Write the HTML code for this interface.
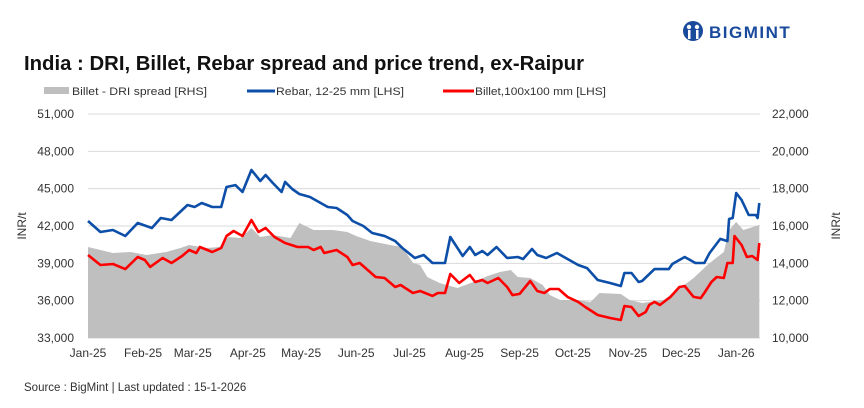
<!DOCTYPE html>
<html><head><meta charset="utf-8">
<style>
body{margin:0;background:#fff;font-family:"Liberation Sans",sans-serif;}
#wrap{position:relative;width:864px;height:408px;overflow:hidden;background:#fff;}
</style></head>
<body>
<div id="wrap">
<svg id="svg" width="864" height="408" xmlns="http://www.w3.org/2000/svg">
  <g>
    <circle cx="693" cy="31" r="10" fill="#1a4a9c"/>
    <circle cx="689" cy="27" r="2.2" fill="#fff"/><circle cx="697" cy="27" r="2.2" fill="#fff"/>
    <rect x="688" y="30" width="2.5" height="9" fill="#fff"/><rect x="696" y="30" width="2.5" height="9" fill="#fff"/>
    <text x="709" y="38" font-size="17" font-weight="bold" fill="#1a4a9c" letter-spacing="1.5">BIGMINT</text>
  </g>
  <text x="24" y="70" font-size="20" font-weight="bold" fill="#111" textLength="560" lengthAdjust="spacingAndGlyphs">India : DRI, Billet, Rebar spread and price trend, ex-Raipur</text>
  <g>
    <g><rect x="44" y="87" width="25" height="7" fill="#bfbfbf"/><text x="72" y="95" font-size="11" fill="#333" textLength="135" lengthAdjust="spacingAndGlyphs">Billet - DRI spread  [RHS]</text></g>
    <g><line x1="247" y1="91" x2="275" y2="91" stroke="#0d4fa8" stroke-width="3"/><text x="276" y="95" font-size="11" fill="#333" textLength="128" lengthAdjust="spacingAndGlyphs">Rebar, 12-25 mm [LHS]</text></g>
    <g><line x1="443" y1="91" x2="474" y2="91" stroke="#ff0000" stroke-width="3"/><text x="475" y="95" font-size="11" fill="#333" textLength="131" lengthAdjust="spacingAndGlyphs">Billet,100x100 mm [LHS]</text></g>
  </g>
  <g id="grid"></g><g id="spread"></g><g id="lines"></g><g id="axes"></g>
  <text transform="translate(26,226) rotate(-90)" text-anchor="middle" font-size="12" fill="#333">INR/t</text>
  <text transform="translate(840,226) rotate(-90)" text-anchor="middle" font-size="12" fill="#333">INR/t</text>
  <text x="24" y="391" font-size="11.5" fill="#333">Source : BigMint | Last updated : 15-1-2026</text>
</svg>
</div>
<script>
const leftTicks=[33000,36000,39000,42000,45000,48000,51000];
const rightTicks=[10000,12000,14000,16000,18000,20000,22000];
const monthLabels=["Jan-25","Feb-25","Mar-25","Apr-25","May-25","Jun-25","Jul-25","Aug-25","Sep-25","Oct-25","Nov-25","Dec-25","Jan-26"];
const monthDays=[0,31,59,90,120,151,181,212,243,273,304,334,365];
const rebarDays=[0,7,14,21,28,36,41,47,56,60,64,70,75,78,83,87,92,97,100,104,109,111,115,119,125,131,135,140,146,149,155,160,167,173,177,184,189,194,201,204,211,215,218,222,225,230,236,242,245,250,253,258,264,271,276,281,287,294,300,302,306,310,312,319,327,329,336,342,347,350,356,360,361,363,365,368,372,376,377,378];
const rebarVals=[42400,41520,41680,41200,42240,41840,42640,42480,43690,43530,43850,43530,43530,45130,45290,44730,46500,45620,46100,45460,44730,45540,44970,44570,44330,43850,43530,43450,42880,42400,42000,41440,41200,40790,40230,39430,39670,39030,39030,41120,39590,40310,39670,39990,39670,40310,39430,39510,39350,40150,39670,39430,39830,39270,38870,38620,37660,37420,37180,38220,38220,37500,37580,38540,38540,38950,39510,39030,39030,39830,40960,40790,42560,42640,44650,44090,42880,42880,42640,43850];
const billetDays=[0,7,14,21,28,32,35,42,47,53,57,61,63,70,75,78,82,87,92,96,100,105,111,118,124,127,131,133,140,146,149,153,162,167,173,176,183,187,194,197,201,204,209,215,218,222,225,231,236,239,243,249,253,257,260,265,270,276,280,287,294,300,302,306,310,314,316,319,322,328,333,336,341,345,347,351,354,358,360,363,364,368,371,374,377,378];
const billetVals=[39670,38870,38950,38540,39510,39270,38710,39430,39030,39590,40070,39830,40310,39910,40230,41200,41600,41200,42480,41520,41840,41120,40630,40310,40310,40070,40310,39830,40070,39510,38870,39030,37900,37820,37100,37260,36620,36780,36380,36620,36620,38140,37420,38060,37500,37660,37420,37820,37100,36450,36540,37580,36780,36620,36940,36940,36300,35900,35490,34850,34610,34450,35570,35490,34770,35090,35650,35900,35650,36300,37100,37180,36300,36210,36620,37500,37900,37820,39030,39030,41200,40470,39510,39590,39270,40630];
const spreadDays=[0,7,14,24,33,44,52,57,67,74,79,86,92,97,104,114,119,127,138,146,151,159,170,177,183,187,191,198,208,217,225,232,238,242,249,256,260,266,275,283,288,300,305,312,324,332,341,350,358,361,365,369,378];
const spreadVals=[14875,14714,14554,14607,14446,14607,14821,14982,14821,14875,15411,15357,15893,15411,15518,15357,16161,15786,15786,15679,15464,15196,14982,14875,14018,13911,13268,12946,12679,13000,13321,13536,13643,13268,13214,12839,12304,12036,12036,11929,12411,12357,12036,11875,12036,12571,13214,14018,14607,15786,16214,15786,16054];

const X0=88,PXD=1.776,Y0=114,Y1=338;
const xs=d=>X0+d*PXD;
const yL=v=>Y1-(v-33000)/18000*(Y1-Y0);
const yR=v=>Y1-(v-10000)/12000*(Y1-Y0);
const NS="http://www.w3.org/2000/svg";
function mk(tag,attrs,parent){const e=document.createElementNS(NS,tag);for(const k in attrs)e.setAttribute(k,attrs[k]);parent.appendChild(e);return e;}
const grid=document.getElementById('grid'),axes=document.getElementById('axes');
leftTicks.forEach((t,i)=>{
  const y=yL(t);
  const g=mk('line',{x1:88,x2:760,y1:y,y2:y,stroke:'#d9d9d9','stroke-width':1},grid);
  
  
  const tl=mk('text',{x:74,y:y+4,'text-anchor':'end','font-size':12,fill:'#333'},axes);
  tl.textContent=t.toLocaleString('en-US');
  
  
});
rightTicks.forEach(t=>{
  const y=yR(t);
  const tl=mk('text',{x:772,y:y+4,'font-size':12,fill:'#333'},axes);
  tl.textContent=t.toLocaleString('en-US');
  
  
});
monthLabels.forEach((m,i)=>{
  const tl=mk('text',{x:xs(monthDays[i]),y:357,'text-anchor':'middle','font-size':12,fill:'#333'},axes);
  tl.textContent=m;
  
  
});
let d='M'+xs(spreadDays[0])+','+Y1;
spreadDays.forEach((dd,i)=>{d+=' L'+xs(dd).toFixed(1)+','+yR(spreadVals[i]).toFixed(1);});
d+=' L'+xs(spreadDays[spreadDays.length-1])+','+Y1+' Z';
const area=mk('path',{d:d,fill:'#bfbfbf'},document.getElementById('spread'));


function line(days,vals,color,name){
  const pts=days.map((dd,i)=>xs(dd).toFixed(1)+','+yL(vals[i]).toFixed(1)).join(' ');
  const p=mk('polyline',{points:pts,fill:'none',stroke:color,'stroke-width':2.6,'stroke-linejoin':'round'},document.getElementById('lines'));
  
  
}
line(rebarDays,rebarVals,'#0d4fa8','rebar-line');
line(billetDays,billetVals,'#ff0000','billet-line');
</script>
</body></html>
